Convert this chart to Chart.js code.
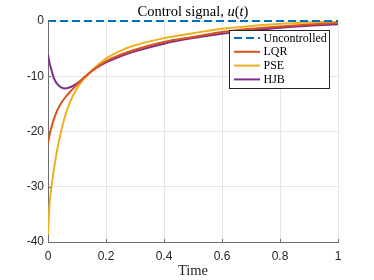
<!DOCTYPE html>
<html>
<head>
<meta charset="utf-8">
<script src="https://cdn.jsdelivr.net/npm/chart.js@4"></script>
<style>
  html, body { margin: 0; padding: 0; background: #fff; }
  #wrap { width: 374px; height: 280px; }
</style>
</head>
<body>
<div id="wrap"><canvas id="myChart" width="374" height="280"></canvas></div>
<script>
// time samples and control signals
var times = [0, 0.005, 0.01, 0.02, 0.03, 0.045, 0.06, 0.08, 0.1, 0.125, 0.15, 0.2, 0.25, 0.3, 0.4, 0.5, 0.6, 0.7, 0.8, 0.9, 1.0];
var uncontrolled = [0, 0, 0, 0, 0, 0, 0, 0, 0, 0, 0, 0, 0, 0, 0, 0, 0, 0, 0, 0, 0];
var lqr = [-22.1, -20.7, -19.6, -17.8, -16.4, -14.9, -13.8, -12.6, -11.5, -10.2, -9.1, -7.3, -6.1, -5.2, -3.8, -2.9, -2.0, -1.4, -1.0, -0.65, -0.35];
var pse = [-38.7, -33.5, -30.8, -27.0, -23.8, -20.0, -17.0, -14.2, -12.2, -10.4, -9.0, -6.8, -5.4, -4.4, -3.1, -2.2, -1.4, -0.9, -0.5, -0.25, -0.1];
var hjb = [-6.1, -7.5, -8.5, -10.3, -11.3, -12.0, -12.2, -11.9, -11.3, -10.3, -9.1, -7.5, -6.4, -5.5, -4.1, -3.1, -2.3, -1.7, -1.2, -0.85, -0.6];
var xTicks = [0, 0.2, 0.4, 0.6, 0.8, 1];
var yTicks = [-40, -30, -20, -10, 0];

function pts(vals) {
	return times.map(function (t, i) { return { x: t, y: vals[i] }; });
}

// title pieces: [text, italic]
var titleParts = [['Control signal, ', false], ['u', true], ['(', false], ['t', true], [')', false]];

// title, inside tick marks and legend box
var extras = {
	id: 'extras',
	afterDraw: function (chart) {
		var ctx = chart.ctx;
		var a = chart.chartArea;
		ctx.save();

		// inward tick marks
		ctx.strokeStyle = '#6e6e6e';
		ctx.lineWidth = 1;
		var xs = chart.scales.x, ys = chart.scales.y;
		xTicks.forEach(function (v) {
			var px = Math.round(xs.getPixelForValue(v)) + 0.5;
			ctx.beginPath();
			ctx.moveTo(px, a.bottom);
			ctx.lineTo(px, a.bottom - 3);
			ctx.stroke();
		});
		yTicks.forEach(function (v) {
			var py = Math.round(ys.getPixelForValue(v)) + 0.5;
			ctx.beginPath();
			ctx.moveTo(a.left, py);
			ctx.lineTo(a.left + 3, py);
			ctx.stroke();
		});

		// title
		ctx.fillStyle = '#000';
		ctx.textBaseline = 'middle';
		ctx.textAlign = 'left';
		var fnt = function (it) { return (it ? 'italic ' : '') + '14.5px "Liberation Serif"'; };
		var total = 0;
		titleParts.forEach(function (p) { ctx.font = fnt(p[1]); total += ctx.measureText(p[0]).width; });
		var x = (a.left + a.right) / 2 - total / 2;
		titleParts.forEach(function (p) {
			ctx.font = fnt(p[1]);
			ctx.fillText(p[0], x, 12);
			x += ctx.measureText(p[0]).width;
		});

		// legend
		var bx = 229.5, by = 30.5, bw = 100, bh = 58;
		ctx.fillStyle = '#fff';
		ctx.fillRect(bx, by, bw, bh);
		ctx.strokeStyle = '#262626';
		ctx.lineWidth = 1;
		ctx.strokeRect(bx, by, bw, bh);
		ctx.font = '12px "Liberation Serif"';
		chart.data.datasets.forEach(function (ds, i) {
			var yy = 38 + i * 13.8;
			ctx.strokeStyle = ds.borderColor;
			ctx.lineWidth = 2;
			ctx.setLineDash(ds.borderDash || []);
			ctx.beginPath();
			ctx.moveTo(234, yy);
			ctx.lineTo(260, yy);
			ctx.stroke();
			ctx.setLineDash([]);
			ctx.fillStyle = '#000';
			ctx.fillText(ds.label, 263.5, yy + 0.5);
		});
		ctx.restore();
	}
};

var ctx = document.getElementById('myChart').getContext('2d');
var myChart = new Chart(ctx, {
	type: 'line',
	data: {
		datasets: [{
			label: 'Uncontrolled',
			data: pts(uncontrolled),
			borderColor: '#0072BD',
			borderWidth: 2,
			borderDash: [8, 4],
			pointRadius: 0,
			clip: false,
			order: -1
		}, {
			label: 'LQR',
			data: pts(lqr),
			borderColor: '#D95319',
			borderWidth: 2,
			pointRadius: 0,
			cubicInterpolationMode: 'monotone'
		}, {
			label: 'PSE',
			data: pts(pse),
			borderColor: '#EDB120',
			borderWidth: 2,
			pointRadius: 0,
			cubicInterpolationMode: 'monotone'
		}, {
			label: 'HJB',
			data: pts(hjb),
			borderColor: '#7E2F8E',
			borderWidth: 2,
			pointRadius: 0,
			cubicInterpolationMode: 'monotone'
		}]
	},
	options: {
		responsive: false,
		animation: false,
		layout: { padding: { left: 0, right: 36, top: 21, bottom: 0 } },
		plugins: {
			legend: { display: false },
			title: { display: false },
			tooltip: { enabled: false }
		},
		scales: {
			x: {
				type: 'linear',
				min: 0,
				max: 1,
				afterFit: function (s) { s.height = 38; },
				afterBuildTicks: function (s) { s.ticks = xTicks.map(function (v) { return { value: v }; }); },
				ticks: {
					color: '#262626',
					font: { family: 'Liberation Sans', size: 12 },
					padding: 7,
					maxRotation: 0,
					callback: function (v) { return String(v); }
				},
				grid: { color: '#e6e6e6', drawTicks: false },
				border: { color: '#6e6e6e', width: 1 },
				title: {
					display: true,
					text: 'Time',
					color: '#262626',
					font: { family: 'Liberation Serif', size: 14.5 },
					padding: { top: 0, bottom: 0 }
				}
			},
			y: {
				min: -40,
				max: 0,
				afterFit: function (s) { s.width = 48; },
				afterBuildTicks: function (s) { s.ticks = yTicks.map(function (v) { return { value: v }; }); },
				ticks: {
					color: '#262626',
					font: { family: 'Liberation Sans', size: 12 },
					padding: 4
				},
				grid: { color: '#e6e6e6', drawTicks: false },
				border: { color: '#6e6e6e', width: 1 }
			}
		}
	},
	plugins: [extras]
});
</script>
</body>
</html>
